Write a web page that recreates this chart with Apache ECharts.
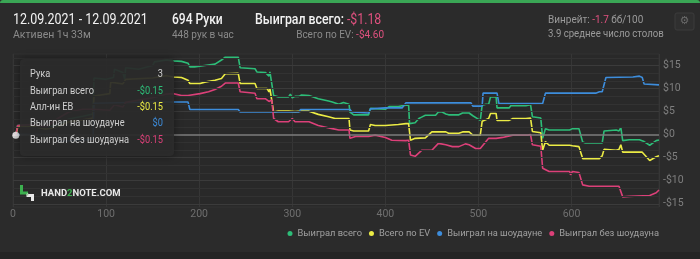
<!DOCTYPE html>
<html>
<head>
<meta charset="utf-8">
<script src="https://cdn.jsdelivr.net/npm/echarts@6/dist/echarts.min.js"></script>
<style>
html,body{margin:0;padding:0;background:#2b2b2b;}
#c{width:700px;height:259px;}
</style>
</head>
<body>
<div id="c"></div>
<script>
// ---- data ----
const seriesNames = ['Выиграл всего', 'Всего по EV', 'Выиграл на шоудауне', 'Выиграл без шоудауна'];
const seriesColors = ['#2dbd78', '#ecec45', '#3d8ddc', '#dc4079'];
const xTicks = [0, 100, 200, 300, 400, 500, 600];
const yTicks = [-15, -10, -5, 0, 5, 10, 15];
const totalHands = 694;

const wonTotal = [[0,0],[3,-0.15],[5,2.0],[22,2.2],[35,1.6],[48,2.0],[60,3.4],[75,4.0],[86,4.5],[87,12.3],[100,12.0],[108,12.4],[109,14.2],[118,13.5],[120,12.0],[121,14.5],[135,14.2],[150,15.0],[152,15.8],[165,16.2],
 [172,16.0],[181,15.9],[188,15.5],[190,14.7],[195,14.7],[206,15.0],[217,15.3],[224,16.2],[228,16.8],[242,16.8],[244,14.5],[260,14.3],[262,13.6],[271,13.5],[275,12.7],[276,13.6],[278,13.4],[280,8.5],[285,8.2],[296,8.2],[298,8.8],[300,8.0],[303,8.3],[307,8.3],
 [310,8.6],[318,8.5],[328,7.8],[339,7.3],[343,7.1],[350,6.6],[355,7.0],[361,6.6],[362,4.9],[366,4.3],[382,4.3],[384,5.7],[400,5.5],[404,6.1],[414,6.1],[422,6.4],[425,6.4],[426,2.4],[432,2.6],[436,3.5],[439,3.8],[443,4.2],[454,4.2],[457,4.9],[461,4.9],[465,4.5],[468,4.3],[479,4.3],[483,4.7],[490,4.7],[494,4.1],[502,3.1],[504,6.4],[508,6.6],[511,6.6],[513,8.2],[519,8.2],[520,5.8],[533,5.8],[535,6.3],[551,6.3],[553,6.5],[556,6.5],[558,3.9],[567,3.6],[569,-0.8],[572,1.3],[576,1.0],[598,1.0],[601,1.3],[608,1.3],[612,-1.6],[615,-1.8],[633,-1.8],[635,0.8],[648,1.0],[651,0.8],[653,1.5],[655,-1.3],[662,-1.1],[673,-1.1],[678,-1.5],[684,-2.3],[691,-1.3],[694,-1.18]];

const allInEv = [[0,0],[3,-0.15],[5,1.6],[22,1.8],[35,1.2],[48,1.6],[60,2.8],[75,3.2],[86,3.6],[87,8.4],[104,8.9],[105,11.4],[118,11.0],[121,12.0],[150,12.3],[165,12.8],
 [172,12.5],[181,12.4],[188,11.8],[190,11.1],[201,11.1],[206,11.4],[217,11.8],[224,12.2],[228,13.2],[242,13.3],[244,11.1],[260,11.1],[262,10.0],[273,10.0],[275,9.3],[276,10.0],[278,9.8],[280,4.9],[285,5.1],[296,5.1],[298,4.8],[303,5.0],[310,5.1],[318,5.1],[328,4.4],[339,3.9],[346,3.5],[361,3.5],[362,1.0],[366,0.8],[382,0.8],[384,2.2],[389,2.0],[400,2.0],[414,2.2],[422,2.4],[425,2.4],[427,-1.2],[432,-0.8],[443,-0.7],[450,0.6],[457,0.6],[465,0.6],[468,0.3],[479,0.3],[483,0.6],[490,0.6],[494,-0.1],[502,-0.1],[504,2.9],[511,3.5],[513,4.6],[519,4.6],[520,3.1],[533,3.1],[537,3.5],[551,3.5],[556,3.6],[558,0.7],[567,0.4],[569,-3.4],[572,-1.5],[576,-2.3],[598,-2.3],[599,-2.7],[601,-2.4],[608,-2.6],[612,-5.2],[630,-5.2],[633,-4.6],[635,-3.2],[648,-3.4],[651,-3.2],[653,-2.2],[655,-3.8],[676,-3.8],[684,-5.6],[691,-4.8],[694,-4.6]];

const wonShowdown = [[0,0],[3,0],[48,0],[49,-1.5],[86,-1.0],[87,6.8],[150,7.1],[172,7.1],[188,7.1],[190,5.45],[242,5.45],[244,4.9],[307,4.9],[309,5.45],[362,5.45],[364,4.9],[366,4.7],[382,4.7],[384,5.6],[400,5.8],[418,5.8],[422,6.9],[492,6.9],[494,6.2],[504,6.2],[505,9.0],[520,9.0],[522,6.75],[569,6.75],[572,9.0],[626,9.0],[630,9.3],[633,9.3],[637,12.4],[666,12.5],[673,12.7],[676,12.4],[678,11.0],[680,10.8],[694,10.8]];

const wonNoShowdown = [[0,0],[3,-0.15],[5,2.0],[22,2.2],[35,1.6],[48,3.5],[60,4.9],[75,5.5],[86,5.5],[104,5.3],[109,6.5],[118,6.0],[121,7.0],[150,8.0],[165,8.8],
 [172,8.9],[181,8.5],[188,8.5],[190,8.9],[201,8.9],[210,9.3],[217,9.8],[224,10.5],[228,11.2],[242,11.2],[244,9.3],[260,9.0],[262,7.8],[271,7.8],[275,7.2],[276,7.6],[278,7.5],[280,3.5],[285,2.8],[296,2.8],[300,3.5],[303,2.8],[318,2.8],[328,2.0],[343,1.3],[350,1.0],[361,1.0],[362,-0.8],[368,-0.4],[382,-0.4],[389,-0.1],[400,-0.6],[407,-1.2],[422,-1.3],[425,-1.2],[427,-4.4],[432,-4.7],[439,-3.4],[450,-3.4],[457,-1.9],[465,-2.2],[472,-2.6],[479,-2.6],[486,-2.0],[490,-2.2],[497,-3.0],[502,-3.0],[511,-0.8],[519,-0.8],[526,-0.6],[537,-0.1],[553,-0.1],[556,0.0],[558,-2.2],[567,-2.5],[569,-7.3],[576,-8.0],[598,-8.0],[599,-8.7],[601,-8.0],[608,-8.2],[612,-10.9],[619,-11.2],[651,-11.2],[653,-10.9],[655,-13.5],[662,-13.4],[684,-13.2],[691,-12.6],[694,-12.0]];

const hoverHand = 3;
const hoverValue = -0.15;
const tipRows = [['Рука', '3'], ['Выиграл всего', '-$0.15'], ['Алл-ин EB', '-$0.15'], ['Выиграл на шоудауне', '$0'], ['Выиграл без шоудауна', '-$0.15']];
const tipColors = ['#cfcfcf', '#2dbd78', '#ecec45', '#3d8ddc', '#dc4079'];

// ---- chart ----
const chart = echarts.init(document.getElementById('c'), null, {renderer: 'canvas'});
const font = 'Roboto, "Noto Sans", sans-serif';
const allSeries = [wonTotal, allInEv, wonShowdown, wonNoShowdown];

function money(v) {
  if (v === 0) return '$0';
  return (v < 0 ? '-$' : '$') + Math.abs(v);
}

// horizontal grid lines (major with labels on the right, plus thirds between)
const gridMarks = [];
yTicks.forEach((v, i) => {
  gridMarks.push({yAxis: v, label: {show: true, formatter: money(v)},
    lineStyle: v === 0 ? {color: '#7c7c7c', width: 1.6, type: 'solid'} : {color: '#3b3b3b', width: 1, type: 'solid'}});
  const step = i < yTicks.length - 1 ? (yTicks[i + 1] - v) : 5;
  for (let k = 1; k < 3; k++) {
    gridMarks.push({yAxis: v + step * k / 3, label: {show: false}, lineStyle: {color: '#323232', width: 1, type: 'solid'}});
  }
});

const series = [{
  type: 'line', data: [], silent: true, z: 1,
  markLine: {
    silent: true, symbol: 'none', animation: false, precision: 4,
    lineStyle: {type: 'solid'},
    label: {position: 'end', distance: 4, color: '#7f7f7f', fontSize: 10.5, fontFamily: font},
    data: gridMarks
  }
}];
allSeries.forEach((d, i) => series.push({
  name: seriesNames[i],
  type: 'line',
  data: d,
  showSymbol: false,
  symbol: 'circle',
  lineStyle: {width: 1.6, color: seriesColors[i]},
  itemStyle: {color: seriesColors[i]},
  z: 3,
  animation: false
}));
series.push({
  type: 'scatter',
  data: [[hoverHand, hoverValue]],
  symbolSize: 7,
  itemStyle: {color: '#ffffff'},
  z: 5,
  silent: true,
  animation: false
});

const tipGroup = [];
tipGroup.push({type: 'rect', shape: {x: 20, y: 59, width: 154, height: 97, r: 4},
  style: {fill: 'rgba(44,44,44,0.9)', shadowBlur: 8, shadowColor: 'rgba(0,0,0,0.45)'}, z: 100});
tipRows.forEach((r, i) => {
  const y = 74.5 + i * 16.4;
  tipGroup.push({type: 'text', x: 30, y: y, z: 101, scaleX: 0.88,
    style: {text: r[0], fill: '#cfcfcf', font: '10.5px ' + font, textVerticalAlign: 'middle', textAlign: 'left'}});
  tipGroup.push({type: 'text', x: 163, y: y, z: 101, scaleX: 0.88,
    style: {text: r[1], fill: tipColors[i], font: '10.5px ' + font, textVerticalAlign: 'middle', textAlign: 'right'}});
});

const graphics = [
  {type: 'rect', shape: {x: 0, y: 0, width: 700, height: 3, r: [3,3,0,0]}, style: {fill: '#3aa655'}, z: 50},
  {type: 'rect', shape: {x: 0, y: 252, width: 700, height: 7}, style: {fill: '#242424'}, z: -1},
  {type: 'text', x: 13, y: 20.5, scaleX: 0.89, style: {text: '12.09.2021 - 12.09.2021', fill: '#f2f2f2', font: '14px ' + font, textVerticalAlign: 'middle'}},
  {type: 'text', x: 13, y: 35, style: {text: 'Активен 1ч 33м', fill: '#8a8a8a', font: '10.5px ' + font, textVerticalAlign: 'middle'}},
  {type: 'text', x: 172, y: 20.5, scaleX: 0.86, style: {text: '694 Руки', fill: '#f2f2f2', font: '500 14px ' + font, textVerticalAlign: 'middle'}},
  {type: 'text', x: 172, y: 35, style: {text: '448 рук в час', fill: '#8a8a8a', font: '10px ' + font, textVerticalAlign: 'middle'}},
  {type: 'text', x: 255, y: 20.5, scaleX: 0.88, style: {rich: {a: {fill: '#f2f2f2', font: '500 14px ' + font}, b: {fill: '#e0517f', font: '14px ' + font}}, text: '{a|Выиграл всего: }{b|-$1.18}', textVerticalAlign: 'middle'}},
  {type: 'text', x: 384, y: 35, style: {rich: {a: {fill: '#8a8a8a', font: '10px ' + font}, b: {fill: '#e0517f', font: '10px ' + font}}, text: '{a|Всего по EV: }{b|-$4.60}', textAlign: 'right', textVerticalAlign: 'middle'}},
  {type: 'text', x: 548, y: 20.5, style: {rich: {a: {fill: '#9a9a9a', font: '10px ' + font}, b: {fill: '#e0517f', font: '10px ' + font}}, text: '{a|Винрейт: }{b|-1.7}{a| бб/100}', textVerticalAlign: 'middle'}},
  {type: 'text', x: 548, y: 34, scaleX: 0.96, style: {text: '3.9 среднее число столов', fill: '#9a9a9a', font: '10px ' + font, textVerticalAlign: 'middle'}},
  {type: 'rect', shape: {x: 675, y: 13, width: 19, height: 17, r: 2}, style: {fill: '#2f2f2f', stroke: '#3d3d3d', lineWidth: 1}},
  {type: 'text', x: 684.5, y: 21.5, style: {text: '⚙', fill: '#6a6a6a', font: '11px "DejaVu Sans"', textAlign: 'center', textVerticalAlign: 'middle'}},
  // logo
  {type: 'polyline', shape: {points: [[21.5, 185], [21.5, 193], [28, 193]]}, style: {stroke: '#3cb04f', lineWidth: 3, fill: null}, z: 10},
  {type: 'polyline', shape: {points: [[26.5, 195.5], [32.5, 195.5], [32.5, 201]]}, style: {stroke: '#e8e8e8', lineWidth: 3, fill: null}, z: 10},
  {type: 'line', shape: {x1: 27.5, y1: 193, x2: 27.5, y2: 195.5}, style: {stroke: '#9acd9a', lineWidth: 1.5}, z: 10},
  {type: 'text', x: 41, y: 193.5, z: 10, style: {rich: {a: {fill: '#e8e8e8', font: 'bold 9.5px ' + font}, g: {fill: '#3cb04f', font: 'bold 9.5px ' + font}}, text: '{a|HAND}{g|2}{a|NOTE.COM}', textVerticalAlign: 'middle'}}
].concat(tipGroup);

chart.setOption({
  backgroundColor: '#2b2b2b',
  animation: false,
  textStyle: {fontFamily: font},
  grid: {left: 13, right: 41, top: 54, bottom: 52, show: true, backgroundColor: '#292929', borderColor: '#333', borderWidth: 1},
  legend: {
    data: seriesNames, left: 282.5, top: 224, width: 420, icon: 'circle', itemWidth: 5, itemHeight: 5, itemGap: 7,
    textStyle: {color: '#a0a0a0', fontSize: 9.3, fontFamily: font}, inactiveColor: '#555'
  },
  xAxis: {
    type: 'value', min: 0, max: totalHands, interval: 100,
    axisLine: {show: false}, axisTick: {show: false},
    axisLabel: {color: '#6f6f6f', fontSize: 10.5, margin: 2, showMaxLabel: false,
      formatter: v => xTicks.indexOf(v) >= 0 ? String(v) : ''},
    splitLine: {show: true, lineStyle: {color: '#363636', width: 1}}
  },
  yAxis: {
    type: 'value', position: 'right', min: -15.7, max: 17.5,
    axisLine: {show: false}, axisTick: {show: false},
    axisLabel: {show: false},
    splitLine: {show: false}
  },
  series: series,
  graphic: graphics
});
</script>
</body>
</html>
